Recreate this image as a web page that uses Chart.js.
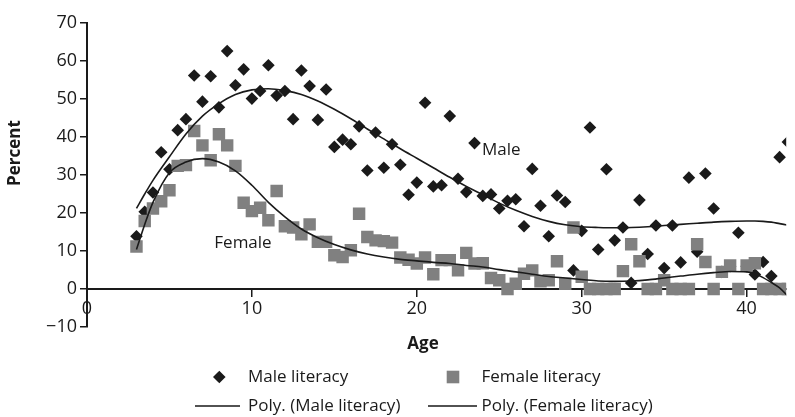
<!DOCTYPE html>
<html>
<head>
<meta charset="utf-8">
<script src="https://cdn.jsdelivr.net/npm/chart.js@4.4.1/dist/chart.umd.min.js"></script>
<style>
  html, body { margin: 0; padding: 0; background: #fff; }
  #wrap { position: relative; width: 795px; height: 417px; }
</style>
</head>
<body>
<div id="wrap"><canvas id="literacyChart"></canvas></div>
<script>
// ages sampled every half year
const ages = [3, 3.5, 4, 4.5, 5, 5.5, 6, 6.5, 7, 7.5, 8, 8.5, 9, 9.5, 10, 10.5, 11, 11.5, 12, 12.5,
  13, 13.5, 14, 14.5, 15, 15.5, 16, 16.5, 17, 17.5, 18, 18.5, 19, 19.5, 20, 20.5, 21, 21.5, 22, 22.5,
  23, 23.5, 24, 24.5, 25, 25.5, 26, 26.5, 27, 27.5, 28, 28.5, 29, 29.5, 30, 30.5, 31, 31.5, 32, 32.5,
  33, 33.5, 34, 34.5, 35, 35.5, 36, 36.5, 37, 37.5, 38, 38.5, 39, 39.5, 40, 40.5, 41, 41.5, 42, 42.5];

const maleLiteracy = [13.9, 20.3, 25.4, 36.0, 31.5, 41.8, 44.7, 56.2, 49.3, 56.0,
  47.8, 62.6, 53.6, 57.8, 50.1, 52.1, 58.9, 50.9, 52.1, 44.7,
  57.5, 53.4, 44.5, 52.5, 37.4, 39.3, 38.1, 42.8, 31.2, 41.2,
  31.9, 38.1, 32.7, 24.8, 28.0, 49.0, 27.0, 27.3, 45.5, 29.0,
  25.5, 38.4, 24.5, 24.9, 21.2, 23.2, 23.6, 16.5, 31.6, 21.9,
  13.9, 24.6, 22.9, 4.9, 15.3, 42.5, 10.4, 31.5, 12.8, 16.2,
  1.6, 23.4, 9.2, 16.7, 5.5, 16.7, 7.0, 29.3, 9.8, 30.4,
  21.2, 4.5, 6.0, 14.8, 6.0, 3.8, 7.1, 3.4, 34.7, 38.7];

const femaleLiteracy = [11.2, 17.9, 21.2, 23.1, 26.0, 32.4, 32.6, 41.6, 37.8, 33.9,
  40.7, 37.8, 32.4, 22.7, 20.5, 21.4, 18.1, 25.8, 16.5, 16.2,
  14.4, 17.0, 12.4, 12.4, 8.9, 8.4, 10.2, 19.8, 13.7, 12.8,
  12.6, 12.2, 8.3, 7.7, 6.7, 8.3, 3.9, 7.6, 7.6, 4.9,
  9.5, 6.7, 6.8, 2.9, 2.3, 0, 1.4, 4.0, 4.9, 2.0,
  2.3, 7.3, 1.4, 16.2, 3.2, 0, 0, 0, 0, 4.7,
  11.8, 7.3, 0, 0, 2.3, 0, 0, 0, 11.8, 7.1,
  0, 4.5, 6.2, 0, 6.2, 6.8, 0, 0, 0, 0];

// polynomial trend lines
const trendAges = [3, 3.5, 4, 5, 6, 7, 8, 9, 10, 11, 12, 13, 14, 15, 16, 17, 18, 19, 20, 21, 22,
  23, 24, 25, 26, 27, 28, 29, 30, 31, 32, 33, 34, 35, 36, 37, 38, 39, 40, 40.5, 41, 41.5, 42, 42.5];
const maleTrend = [21.2, 25.0, 28.6, 34.8, 40.8, 45.5, 48.8, 51.2, 52.4, 52.7, 52.2, 51.2, 49.5, 47.3,
  44.8, 42.1, 39.5, 36.9, 34.4, 31.9, 29.4, 27.0, 24.8, 22.6, 20.7, 19.1, 17.8, 16.9, 16.4, 16.2,
  16.1, 16.2, 16.4, 16.7, 17.0, 17.3, 17.6, 17.8, 17.9, 17.9, 17.8, 17.6, 17.2, 16.8];
const femaleTrend = [10.4, 17.0, 22.8, 30.6, 33.4, 34.3, 33.4, 31.1, 27.3, 22.8, 19.0, 15.8, 13.5, 11.7,
  10.3, 9.2, 8.4, 7.8, 7.4, 7.0, 6.7, 6.2, 5.8, 5.1, 4.5, 3.9, 3.3, 2.9, 2.5, 2.1,
  2.0, 2.1, 2.4, 2.9, 3.4, 3.9, 4.3, 4.6, 4.5, 4.0, 3.0, 1.7, 0.3, -1.9];

const yTicks = [-10, 0, 10, 20, 30, 40, 50, 60, 70];
const yTickLabels = ["\u221210", "0", "10", "20", "30", "40", "50", "60", "70"];
const xTicks = [0, 10, 20, 30, 40];
const xTickLabels = ["0", "10", "20", "30", "40"];

const INK = "#1a1a1a";
const GREY = "#808080";
const FONT = "'Open Sans', sans-serif";

const points = (xs, ys) => xs.map((x, i) => ({ x, y: ys[i] }));

Chart.defaults.font.family = FONT;
Chart.defaults.font.size = 18;
Chart.defaults.color = INK;

const extras = {
  id: "extras",
  afterDraw(chart) {
    const { ctx, scales: { x, y } } = chart;
    ctx.save();
    ctx.fillStyle = INK;
    ctx.textBaseline = "middle";

    ctx.font = "17px " + FONT;
    ctx.textAlign = "left";
    ctx.fillText("Male", x.getPixelForValue(23.95), y.getPixelForValue(36.5));
    ctx.fillText("Female", x.getPixelForValue(7.72), y.getPixelForValue(12.1));

    ctx.font = "bold 17px " + FONT;
    ctx.textAlign = "center";
    ctx.fillText("Age", 423, 344);
    ctx.save();
    ctx.translate(15, 153);
    ctx.rotate(-Math.PI / 2);
    ctx.fillText("Percent", 0, 0);
    ctx.restore();

    // legend
    ctx.font = "17px " + FONT;
    ctx.textAlign = "left";
    const row1 = 377, row2 = 406;
    ctx.beginPath();
    ctx.moveTo(213, row1); ctx.lineTo(219.3, row1 - 6.3); ctx.lineTo(225.6, row1); ctx.lineTo(219.3, row1 + 6.3);
    ctx.closePath();
    ctx.fill();
    ctx.fillText("Male literacy", 248, row1);
    ctx.fillStyle = GREY;
    ctx.fillRect(446.7, row1 - 6.3, 12.6, 12.6);
    ctx.fillStyle = INK;
    ctx.fillText("Female literacy", 481.5, row1);

    ctx.strokeStyle = INK;
    ctx.lineWidth = 1.5;
    ctx.beginPath();
    ctx.moveTo(195, row2); ctx.lineTo(240, row2);
    ctx.moveTo(428, row2); ctx.lineTo(477, row2);
    ctx.stroke();
    ctx.fillText("Poly. (Male literacy)", 248, row2);
    ctx.fillText("Poly. (Female literacy)", 481.5, row2);
    ctx.restore();
  }
};

new Chart(document.getElementById("literacyChart"), {
  type: "scatter",
  data: {
    datasets: [
      { label: "Male literacy", data: points(ages, maleLiteracy), pointStyle: "rectRot", pointRadius: 6.3,
        backgroundColor: INK, borderWidth: 0, order: 3 },
      { label: "Female literacy", data: points(ages, femaleLiteracy), pointStyle: "rect", pointRadius: 8.8,
        backgroundColor: GREY, borderWidth: 0, order: 2 },
      { label: "Poly. (Male literacy)", data: points(trendAges, maleTrend), showLine: true, pointRadius: 0,
        borderColor: INK, borderWidth: 1.6, cubicInterpolationMode: "monotone", order: 1 },
      { label: "Poly. (Female literacy)", data: points(trendAges, femaleTrend), showLine: true, pointRadius: 0,
        borderColor: INK, borderWidth: 1.6, cubicInterpolationMode: "monotone", order: 0 }
    ]
  },
  options: {
    responsive: true,
    maintainAspectRatio: false,
    animation: false,
    layout: { padding: { left: 0, right: 0, top: 23, bottom: 90 } },
    plugins: { legend: { display: false }, tooltip: { enabled: false } },
    scales: {
      x: {
        type: "linear",
        position: { y: 0 },
        min: 0,
        max: 42.4,
        afterFit(scale) { scale.height = 0; },
        afterBuildTicks(scale) { scale.ticks = xTicks.map(value => ({ value })); },
        ticks: {
          padding: 2,
          callback: value => xTickLabels[xTicks.indexOf(value)]
        },
        grid: { drawOnChartArea: false, drawTicks: true, tickLength: 7, color: INK, lineWidth: 1.5 },
        border: { display: true, color: INK, width: 2 }
      },
      y: {
        min: -10,
        max: 70,
        afterFit(scale) { scale.width = 87; },
        afterBuildTicks(scale) { scale.ticks = yTicks.map(value => ({ value })); },
        ticks: {
          padding: 3,
          callback: value => yTickLabels[yTicks.indexOf(value)]
        },
        grid: { drawOnChartArea: false, drawTicks: true, tickLength: 7, color: INK, lineWidth: 1.5 },
        border: { display: true, color: INK, width: 2 }
      }
    }
  },
  plugins: [extras]
});
</script>
</body>
</html>
